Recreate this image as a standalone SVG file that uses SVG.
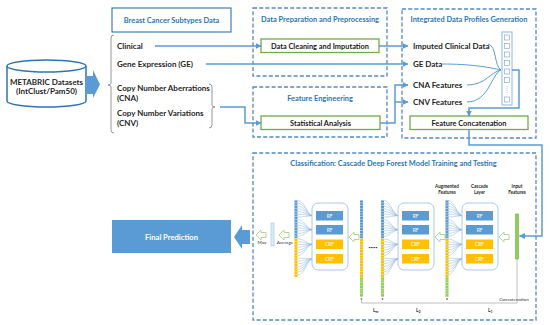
<svg xmlns="http://www.w3.org/2000/svg" width="550" height="325" viewBox="0 0 550 325">
<style>
text{font-family:Lato,"Liberation Sans",Arial,sans-serif;font-weight:bold}
.lbl{font-size:8px;fill:#262626}
.ttl{font-size:7.4px;fill:#2E75B6;text-anchor:middle}
.bx{font-size:7.4px;fill:#1a1a1a;text-anchor:middle}
.sm{font-size:4.6px;fill:#333;text-anchor:middle;font-weight:normal}
.smb{font-size:4.6px;fill:#262626;text-anchor:middle;font-weight:bold}
.dash{fill:none;stroke:#5A86C1;stroke-width:1.3;stroke-dasharray:4 2.2}
.grn{fill:#fff;stroke:#70AD47;stroke-width:1.3}
.con{fill:none;stroke:#5B9BD5;stroke-width:1.5}
.thin{fill:none;stroke:#5B9BD5;stroke-width:1}
.fan{fill:none;stroke:#8FB4DE;stroke-width:0.5}
.hol{fill:#fff;stroke:#A9D18E;stroke-width:0.9}
.rf{fill:#5B9BD5}
.crf{fill:#FFC000}
.ft{font-size:4.8px;fill:#fff;text-anchor:middle;font-weight:normal}
.brace{fill:none;stroke:#7f7f7f;stroke-width:0.8}
</style>
<defs>
<marker id="ah" markerUnits="userSpaceOnUse" markerWidth="6" markerHeight="6" refX="5.5" refY="3" orient="auto"><path d="M0 0L6 3L0 6z" fill="#5B9BD5"/></marker>
<g id="colTop">
<rect x="-1.5" y="200" width="3" height="38.5" fill="#5B9BD5"/>
<rect x="-1.5" y="238.5" width="3" height="38.5" fill="#FFC000"/>
<line x1="0" y1="200" x2="0" y2="277" stroke="#DEEBF7" stroke-width="3" stroke-dasharray="0.6 2.15"/>
</g>
<g id="colFull">
<use href="#colTop"/>
<rect x="-1.5" y="277" width="3" height="20" fill="#92D050"/>
<line x1="0" y1="277" x2="0" y2="297" stroke="#E2F0D9" stroke-width="3" stroke-dasharray="0.6 2.15"/>
<circle cx="0" cy="299" r="0.8" fill="#333"/>
</g>
<g id="layer">
<path class="fan" d="M-14 200.5C-7 200.5 -5 215.75 1 215.75M-14 203.25C-7 203.25 -5 215.75 1 215.75M-14 206C-7 206 -5 215.75 1 215.75M-14 208.75C-7 208.75 -5 215.75 1 215.75M-14 211.5C-7 211.5 -5 215.75 1 215.75M-14 214.25C-7 214.25 -5 215.75 1 215.75M-14 217C-7 217 -5 215.75 1 215.75
M-14 219.75C-7 219.75 -5 229.75 1 229.75M-14 222.5C-7 222.5 -5 229.75 1 229.75M-14 225.25C-7 225.25 -5 229.75 1 229.75M-14 228C-7 228 -5 229.75 1 229.75M-14 230.75C-7 230.75 -5 229.75 1 229.75M-14 233.5C-7 233.5 -5 229.75 1 229.75M-14 236.25C-7 236.25 -5 229.75 1 229.75
M-14 239C-7 239 -5 244.25 1 244.25M-14 241.75C-7 241.75 -5 244.25 1 244.25M-14 244.5C-7 244.5 -5 244.25 1 244.25M-14 247.25C-7 247.25 -5 244.25 1 244.25M-14 250C-7 250 -5 244.25 1 244.25M-14 252.75C-7 252.75 -5 244.25 1 244.25M-14 255.5C-7 255.5 -5 244.25 1 244.25
M-14 258.25C-7 258.25 -5 258.75 1 258.75M-14 261C-7 261 -5 258.75 1 258.75M-14 263.75C-7 263.75 -5 258.75 1 258.75M-14 266.5C-7 266.5 -5 258.75 1 258.75M-14 269.25C-7 269.25 -5 258.75 1 258.75M-14 272C-7 272 -5 258.75 1 258.75M-14 274.75C-7 274.75 -5 258.75 1 258.75"/>
<rect x="0" y="203" width="36" height="67" rx="6" fill="#fff" stroke="#9DC3E6" stroke-width="0.9"/>
<rect class="rf" x="4" y="211" width="27" height="9.5"/>
<text class="ft" x="17.5" y="217.6">RF</text>
<rect class="rf" x="4" y="225" width="27" height="9.5"/>
<text class="ft" x="17.5" y="231.6">RF</text>
<rect class="crf" x="4" y="239.5" width="27" height="9.5"/>
<text class="ft" x="17.5" y="246.1">CRF</text>
<rect class="crf" x="4" y="254" width="27" height="9.5"/>
<text class="ft" x="17.5" y="260.6">CRF</text>
</g>
<path id="hollow" d="M0 0L5 -5V-2.5H10V2.5H5V5Z"/>
</defs>

<g id="metabric">
<path d="M7 66V101A39.5 6 0 0 0 86 101V66" fill="#fff" stroke="#2E75B6" stroke-width="1.5"/>
<ellipse cx="46.5" cy="66" rx="39.5" ry="6" fill="#fff" stroke="#2E75B6" stroke-width="1.5"/>
<text class="lbl" x="46.5" y="85" text-anchor="middle" font-size="7.6">METABRIC Datasets</text>
<text class="lbl" x="46.5" y="94" text-anchor="middle" font-size="7">(IntClust/Pam50)</text>
</g>
<g id="bigArrow1"><path d="M86 76H93V70L100 84.5L93 98V94H86Z" fill="#5B9BD5"/></g>

<g id="subtypes">
<rect x="112" y="8" width="119" height="24" fill="#fff" stroke="#2E75B6" stroke-width="1.1"/>
<text class="ttl" x="171.5" y="22.6">Breast Cancer Subtypes Data</text>
</g>
<g id="dataList">
<path class="brace" d="M114 35Q111 35 111 38V83Q111 85 108 85Q111 85 111 87V130Q111 133 114 133"/>
<text class="lbl" x="117" y="49">Clinical</text>
<text class="lbl" x="117" y="67">Gene Expression (GE)</text>
<text class="lbl" x="117" y="91">Copy Number Aberrations</text>
<text class="lbl" x="117" y="101">(CNA)</text>
<text class="lbl" x="117" y="116">Copy Number Variations</text>
<text class="lbl" x="117" y="126">(CNV)</text>
<path class="brace" d="M209 84Q212 84 212 87V105Q212 107 215 107Q212 107 212 109V125Q212 128 209 128"/>
</g>

<g id="prep">
<rect class="dash" x="253" y="8" width="134" height="68"/>
<text class="ttl" x="320" y="21.5">Data Preparation and Preprocessing</text>
<rect class="grn" x="261" y="39" width="118" height="13.5"/>
<text class="bx" x="320" y="48.5">Data Cleaning and Imputation</text>
</g>
<g id="fe">
<rect class="dash" x="253" y="87" width="134" height="50"/>
<text class="ttl" x="320" y="100.5">Feature Engineering</text>
<rect class="grn" x="261" y="116" width="119" height="13.5"/>
<text class="bx" x="320.5" y="125.5">Statistical Analysis</text>
</g>
<g id="integrated">
<rect class="dash" x="402" y="9" width="134" height="129"/>
<text class="ttl" x="469" y="21.5">Integrated Data Profiles Generation</text>
<text class="lbl" x="413" y="48.5" font-size="7.4">Imputed Clinical Data</text>
<text class="lbl" x="413" y="66.5" font-size="7.4">GE Data</text>
<text class="lbl" x="413" y="87.5" font-size="7.4">CNA Features</text>
<text class="lbl" x="413" y="104.5" font-size="7.4">CNV Features</text>
<rect x="502" y="32" width="10" height="73" fill="#fff" stroke="#9DC3E6" stroke-width="1.2"/>
<g fill="#fff" stroke="#8FAADC" stroke-width="0.7">
<rect x="504.5" y="35" width="5" height="5"/><rect x="504.5" y="43.5" width="5" height="5"/><rect x="504.5" y="52" width="5" height="5"/><rect x="504.5" y="60.5" width="5" height="5"/><rect x="504.5" y="69" width="5" height="5"/><rect x="504.5" y="77.5" width="5" height="5"/><rect x="504.5" y="97" width="5" height="5"/>
</g>
<line x1="507" y1="86" x2="507" y2="93" stroke="#8FAADC" stroke-width="0.8" stroke-dasharray="0.8 1.2"/>
<rect class="grn" x="410" y="116" width="118" height="13.5"/>
<text class="bx" x="469" y="125.5">Feature Concatenation</text>
</g>

<g id="classification">
<rect class="dash" x="253" y="153" width="283" height="167"/>
<text class="ttl" x="393.5" y="165.8">Classification: Cascade Deep Forest Model Training and Testing</text>
</g>
<g id="finalPrediction">
<rect x="112" y="220" width="119" height="33" fill="#5B9BD5"/>
<text x="171.5" y="240" font-size="7.6" fill="#fff" text-anchor="middle">Final Prediction</text>
</g>
<g id="bigArrow2"><path d="M234 237L242 225V230H250V244H242V249Z" fill="#5B9BD5"/></g>

<g id="cascade">
<use href="#hollow" class="hol" x="256" y="235"/>
<text class="sm" x="262" y="244">Max</text>
<rect x="271" y="223" width="3" height="23" fill="#DEEBF7" stroke="#9DC3E6" stroke-width="0.6"/>
<use href="#hollow" class="hol" x="279" y="235"/>
<text class="sm" x="285" y="244">Average</text>
<use href="#colTop" x="296"/>
<use href="#layer" x="312"/>
<use href="#hollow" class="hol" x="349" y="237"/>
<use href="#colFull" x="361.5"/>
<text x="373" y="250" font-size="8" fill="#333" text-anchor="middle">····</text>
<use href="#colFull" x="382.5"/>
<use href="#layer" x="398"/>
<use href="#hollow" class="hol" x="435" y="237"/>
<use href="#colFull" x="447"/>
<use href="#layer" x="462"/>
<use href="#hollow" class="hol" x="499" y="237"/>
<rect x="515.5" y="214" width="3" height="45" fill="#92D050" stroke="#70AD47" stroke-width="0.6"/>
<text class="smb" x="447" y="187.5">Augmented</text>
<text class="smb" x="447" y="194">Features</text>
<text class="smb" x="479.5" y="187.5">Cascade</text>
<text class="smb" x="479.5" y="194">Layer</text>
<text class="smb" x="517" y="187.5">Input</text>
<text class="smb" x="517" y="194">Features</text>
<path d="M361.5 299V303H517V259" fill="none" stroke="#A6A6A6" stroke-width="0.7"/>
<text class="sm" x="514" y="301" text-anchor="end">Concatenation</text>
<text x="373" y="312" font-size="5" fill="#333">L<tspan font-size="3.5" dy="1.2">m</tspan></text>
<text x="416" y="312" font-size="5" fill="#333">L<tspan font-size="3.5" dy="1.2">2</tspan></text>
<text x="488" y="312" font-size="5" fill="#333">L<tspan font-size="3.5" dy="1.2">1</tspan></text>
</g>

<g id="connectors">
<path class="con" d="M155 46H261" marker-end="url(#ah)"/>
<path class="con" d="M379 46H408" marker-end="url(#ah)"/>
<path class="con" d="M206 64H408" marker-end="url(#ah)"/>
<path class="con" d="M220 107H245V123H261" marker-end="url(#ah)"/>
<path class="con" d="M380 123H395V85H408" marker-end="url(#ah)"/>
<path class="con" d="M395 102H408" marker-end="url(#ah)"/>
<path class="thin" d="M488 44C497 46 494 66 501 70"/>
<path class="thin" d="M442 64C470 64 488 67 501 70"/>
<path class="thin" d="M467 85C486 85 490 72 501 70"/>
<path class="thin" d="M467 102C489 102 492 73 501 70"/>
<path class="con" d="M512 70H519V108H469V116" marker-end="url(#ah)"/>
<path class="con" d="M469 129.5V145H542V236H519.5" marker-end="url(#ah)"/>
</g>
</svg>
